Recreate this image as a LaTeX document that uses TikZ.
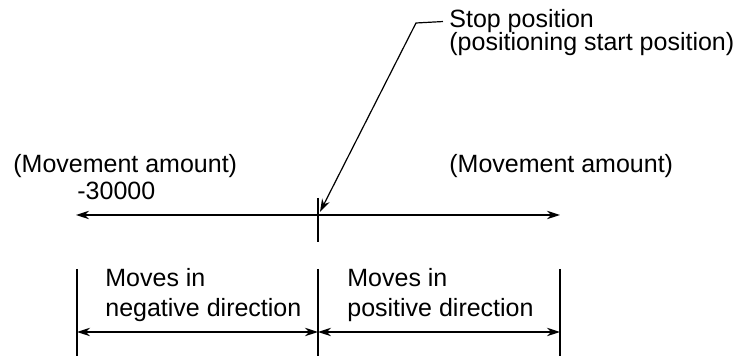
\documentclass[tikz,border=0pt]{standalone}
\usepackage{fontspec}
\setmainfont{Liberation Sans}
\usetikzlibrary{arrows.meta, positioning}
\tikzset{
  lbl/.style={inner sep=0pt, anchor=base west,
    font=\fontsize{12.5}{14.75}\selectfont},
  twolbl/.style={inner sep=0pt, anchor=base west, align=left,
    font=\fontsize{12.5}{14.75}\selectfont},
  dimarrow/.style={{Stealth[length=6.5pt, width=4.2pt]}-{Stealth[length=6.5pt, width=4.2pt]},
    line width=0.6pt},
  leader/.style={-{Stealth[length=6.5pt, width=4.2pt]}, line width=0.6pt},
  line/.style={line width=0.6pt}
}

\begin{document}
\begin{tikzpicture}[x=0.5pt, y=-0.5pt]
  \useasboundingbox (0,0) rectangle (736,356);

  % Labels above the axis
  \node[lbl] (stoptxt) at (449,28) {Stop position};
  \node[lbl] (stopsub) at ([yshift=-11.5pt]stoptxt.base west) {(positioning start position)};
  \node[lbl] (mvl) at (13,173) {(Movement amount)};
  \node[lbl] (amt) at (77,200) {-30000};
  \node[lbl] (mvr) at (449,173) {(Movement amount)};

  % Axis and stop position
  \coordinate (axl) at (76,215);
  \coordinate (axr) at (560,215);
  \coordinate (ticktop) at (318,198);
  \coordinate (tickbot) at (318,242);
  \coordinate (bend) at (416,23);
  \coordinate (tip) at (320,212);

  \draw[dimarrow] (axl) -- (axr);
  \draw[line] (ticktop) -- (tickbot);
  \draw[leader] ([xshift=-3pt]stoptxt.west) -- (bend) -- (tip);

  % Direction ranges
  \foreach \n/\x in {l/77, m/318, r/560} {
    \coordinate (top\n) at (\x,269);
    \coordinate (bot\n) at (\x,356);
    \coordinate (dim\n) at (\x,332);
    \draw[line] (top\n) -- (bot\n);
  }
  \draw[dimarrow] (diml) -- (dimm);
  \draw[dimarrow] (dimm) -- (dimr);

  \node[twolbl] (neg) at (105,316.5) {Moves in\\negative direction};
  \node[twolbl] (pos) at (347,316.5) {Moves in\\positive direction};
\end{tikzpicture}
\end{document}
